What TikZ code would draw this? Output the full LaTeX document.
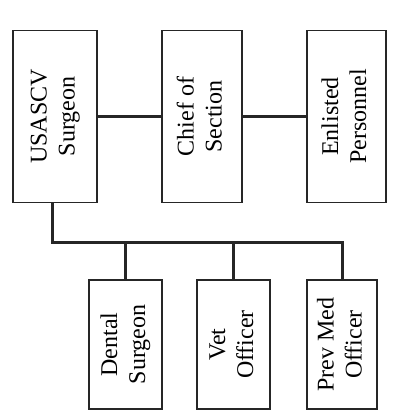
\documentclass[tikz,border=0pt]{standalone}
\usepackage{graphicx}
\usepackage{fontspec}
\setmainfont{Liberation Serif}
\usepackage{tikz}
\usetikzlibrary{positioning,calc}

\newcommand{\uptext}[1]{\rotatebox{90}{\fontsize{24}{28}\selectfont\begin{tabular}{@{}c@{}}#1\end{tabular}}}

\begin{document}
\begin{tikzpicture}[
    x=1pt, y=-1pt,
    office/.style={rectangle, draw=black!85, line width=1.2pt, inner sep=0pt},
    topbox/.style={office, minimum width=82pt, minimum height=172pt},
    lowbox/.style={office, minimum width=72pt, minimum height=129pt},
    link/.style={draw=black!85, line width=3pt}
]
\useasboundingbox (0,0) rectangle (392,419);

% command line
\node[topbox, minimum width=84pt] (surg) at (55,116.5) {\uptext{USASCV\\Surgeon}};
\node[topbox, minimum width=80pt] (chief) at (202,116.5) {\uptext{Chief of\\Section}};
\node[topbox, minimum width=79pt] (enl) at (346.5,116.5) {\uptext{Enlisted\\Personnel}};

\draw[link] (surg.east) -- (chief.west);
\draw[link] (chief.east) -- (enl.west);

% staff officers
\node[lowbox, minimum width=73pt] (dent) at (125.5,344.5) {\uptext{Dental\\Surgeon}};
\node[lowbox, minimum width=73pt] (vet) at (233.5,344.5) {\uptext{Vet\\Officer}};
\node[lowbox, minimum width=70pt] (prev) at (342,344.5) {\uptext{Prev Med\\Officer}};

\coordinate (trunk) at (52,242);
\draw[link] (surg.south -| trunk) -- (trunk) -- (trunk -| prev.north) -- (prev.north);
\draw[link] (trunk -| dent.north) -- (dent.north);
\draw[link] (trunk -| vet.north) -- (vet.north);
\end{tikzpicture}
\end{document}
